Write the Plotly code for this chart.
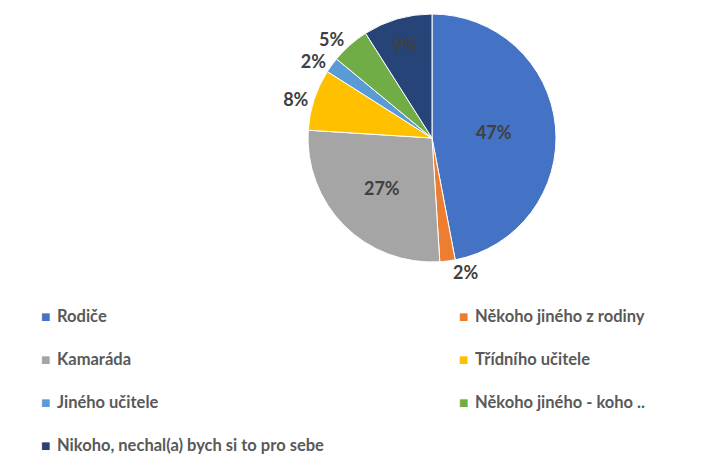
import plotly.graph_objects as go

labels = ["Rodiče", "Někoho jiného z rodiny", "Kamaráda", "Třídního učitele",
          "Jiného učitele", "Někoho jiného - koho ..", "Nikoho, nechal(a) bych si to pro sebe"]
values = [47, 2, 27, 8, 2, 5, 9]
colors = ["#4472C4", "#ED7D31", "#A5A5A5", "#FFC000", "#5B9BD5", "#70AD47", "#264478"]
positions = ["inside", "outside", "inside", "outside", "outside", "outside", "inside"]

# page body has an 8px margin; keep the figure inside the window
OFF = 8
W, H = 706 - OFF, 462 - OFF
FONT = "Lato"


def px(sx):
    return (sx - OFF) / W


def py(sy):
    return 1 - (sy - OFF) / H


fig = go.Figure()
fig.add_trace(go.Pie(
    labels=labels, values=values, sort=False, direction="clockwise", rotation=0,
    marker=dict(colors=colors, line=dict(color="white", width=1)),
    texttemplate="<b>%{percent:.0%}</b>", textposition=positions,
    insidetextorientation="horizontal",
    textfont=dict(family=FONT, size=18, color="#404040"),
    outsidetextfont=dict(family=FONT, size=18, color="#404040"),
    insidetextfont=dict(family=FONT, size=18, color="#404040"),
    showlegend=False, hoverinfo="label+percent",
    domain=dict(x=[px(432 - 125), px(432 + 125)], y=[py(262), py(14)]),
))

# legend drawn as annotations in two columns
col_x = [45.5, 463]
row_y = [316, 359, 402, 445]
annotations = []
for i, (lab, col) in enumerate(zip(labels, colors)):
    r, c = divmod(i, 2)
    x0, y0 = col_x[c], row_y[r]
    annotations.append(dict(x=px(x0), y=py(y0), xref="paper", yref="paper",
                            text="■", showarrow=False, xanchor="center", yanchor="middle",
                            font=dict(family="DejaVu Sans", size=10, color=col)))
    annotations.append(dict(x=px(x0 + 12.5 - 3), y=py(y0), xref="paper", yref="paper",
                            text="<b>" + lab + "</b>", showarrow=False, xanchor="left",
                            yanchor="middle", font=dict(family=FONT, size=16.5, color="#595959")))

fig.update_layout(width=W, height=H, margin=dict(l=0, r=0, t=0, b=0),
                  paper_bgcolor="white", plot_bgcolor="white",
                  annotations=annotations)
fig.write_html("out.html")
